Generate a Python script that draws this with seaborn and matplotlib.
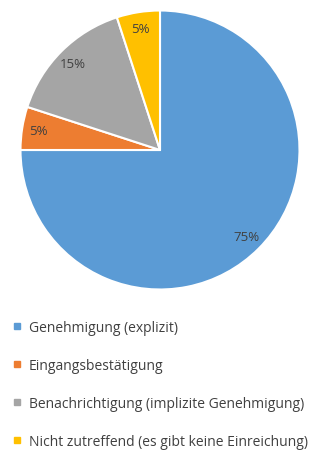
import matplotlib
matplotlib.use("Agg")
import matplotlib.pyplot as plt
from matplotlib.lines import Line2D
import seaborn as sns

categories = [
    "Genehmigung (explizit)",
    "Eingangsbestätigung",
    "Benachrichtigung (implizite Genehmigung)",
    "Nicht zutreffend (es gibt keine Einreichung)",
]
shares = [75, 5, 15, 5]
colors = ["#5B9BD5", "#ED7D31", "#A5A5A5", "#FFC000"]

sns.set_theme(style="white")
plt.rcParams["font.family"] = ["Open Sans", "DejaVu Sans"]

W, H = 325, 456
fig = plt.figure(figsize=(W / 100, H / 100), dpi=100)

cx, cy, r = 160, 151, 139.5
ax = fig.add_axes([(cx - r) / W, (H - cy - r) / H, 2 * r / W, 2 * r / H])

wedges, texts, autotexts = ax.pie(
    shares,
    colors=sns.color_palette(colors),
    startangle=90,
    counterclock=False,
    autopct="%d%%",
    pctdistance=0.88,
    wedgeprops=dict(edgecolor="white", linewidth=1.5),
    textprops=dict(color="#404040", fontsize=9.5),
)
ax.set_xlim(-1, 1)
ax.set_ylim(-1, 1)
ax.set_aspect("equal")
ax.axis("off")

handles = [
    Line2D([], [], marker="s", linestyle="none", markersize=5,
           markerfacecolor=c, markeredgecolor=c)
    for c in colors
]
fig.legend(
    handles, categories,
    loc="upper left",
    bbox_to_anchor=(12 / W, 1 - 321 / H),
    frameon=False,
    fontsize=10,
    labelcolor="#404040",
    handlelength=0.7,
    handletextpad=0.5,
    labelspacing=1.65,
    borderaxespad=0,
    borderpad=0,
)

fig.savefig("out.png", dpi=100)
